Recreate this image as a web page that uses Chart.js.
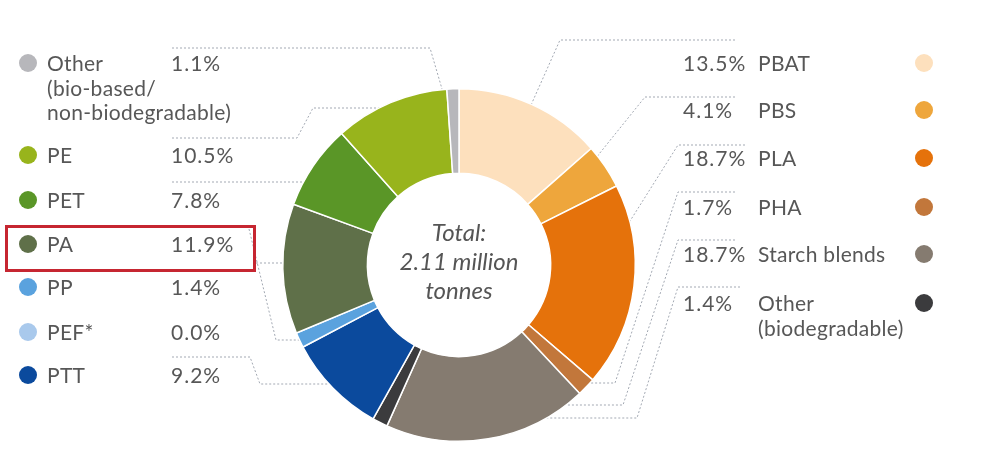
<!DOCTYPE html>
<html lang="en">
<head>
  <meta charset="UTF-8" />
  <title>Bioplastics production capacity by material</title>
  <script src="https://cdn.jsdelivr.net/npm/chart.js@4"></script>
  <style>
    html, body { margin: 0; padding: 0; background: #fff; }
    #wrap { position: relative; width: 1001px; height: 454px; overflow: hidden; font-family: Lato, "Open Sans", sans-serif; color: #575757; }
    #chart { position: absolute; left: 0; top: 0; }
    .lbl { position: absolute; font-size: 21px; line-height: 24.5px; letter-spacing: 0.3px; white-space: pre; transform: translateY(-12.25px); }
    .lbl.pct { letter-spacing: 1px; }
    .dot { position: absolute; width: 18px; height: 18px; border-radius: 50%; transform: translate(-9px, -9px); }
    .total { position: absolute; left: 459px; top: 260px; transform: translate(-50%, -50%); text-align: center; font-style: italic; font-size: 24px; line-height: 29px; color: #555; }
    #box { position: absolute; left: 5px; top: 225px; width: 251px; height: 47px; box-sizing: border-box; border: 3px solid #c62631; }
  </style>
</head>
<body>
  <div id="wrap">
    <canvas id="chart" width="1001" height="454"></canvas>
    <div id="labels"></div>
    <div class="total">Total:<br>2.11 million<br>tonnes</div>
    <div id="box"></div>
  </div>

  <script>
    // clockwise from 12 o'clock
    const materials = ['PBAT', 'PBS', 'PLA', 'PHA', 'Starch blends', 'Other\n(biodegradable)',
                       'PTT', 'PEF*', 'PP', 'PA', 'PET', 'PE', 'Other\n(bio-based/\nnon-biodegradable)'];
    const shares = [13.5, 4.1, 18.7, 1.7, 18.7, 1.4, 9.2, 0.0, 1.4, 11.9, 7.8, 10.5, 1.1];
    const colors = ['#fde0bd', '#eea63c', '#e5720b', '#c2773b', '#857b70', '#3b3b3d',
                    '#0b4a9d', '#a9c9ec', '#5aa2de', '#5f7049', '#5a9627', '#98b41c', '#b7b7bb'];

    // legend rows: side, row centre y
    const rows = [
      ['right', 63], ['right', 110], ['right', 158], ['right', 207], ['right', 254], ['right', 303],
      ['left', 375], ['left', 332], ['left', 287], ['left', 244], ['left', 200], ['left', 155], ['left', 63]
    ];

    // dotted leader lines: fixed label-side points, then into the slice
    // end 'c' = straight to slice centre, 'h' = horizontal into slice
    const leaders = [
      { pts: [[735, 40], [560, 40]], end: 'c' },
      { pts: [[735, 97], [645, 97]], end: 'c' },
      { pts: [[745, 145], [678, 145]], end: 'c' },
      { pts: [[735, 192], [678, 192], [615, 383]], end: 'h' },
      { pts: [[735, 240], [678, 240], [623, 405]], end: 'h' },
      { pts: [[740, 287], [678, 287], [637, 418]], end: 'h' },
      { pts: [[172, 357], [250, 357], [260, 384]], end: 'h' },
      null,
      { pts: [[249, 229], [276, 340]], end: 'h' },
      { pts: [[256, 263]], end: 'h' },
      { pts: [[172, 182]], end: 'h' },
      { pts: [[172, 138], [297, 138], [313, 108]], end: 'h' },
      { pts: [[172, 48], [430, 48]], end: 'c' }
    ];

    // legend text
    const box = document.getElementById('labels');
    materials.forEach((m, i) => {
      const [side, y] = rows[i];
      const pct = shares[i].toFixed(1) + '%';
      const dotX = side === 'left' ? 28 : 924;
      const nameX = side === 'left' ? 47 : 758;
      const pctX = side === 'left' ? 171 : 683;
      box.insertAdjacentHTML('beforeend',
        `<div class="dot" style="left:${dotX}px;top:${y}px;background:${colors[i]}"></div>` +
        `<div class="lbl" style="left:${nameX}px;top:${y}px">${m}</div>` +
        `<div class="lbl pct" style="left:${pctX}px;top:${y}px">${pct}</div>`);
    });

    const leaderPlugin = {
      id: 'leaders',
      beforeDatasetsDraw(chart) {
        const ctx = chart.ctx;
        const arcs = chart.getDatasetMeta(0).data;
        ctx.save();
        ctx.strokeStyle = '#a3a9b3';
        ctx.lineWidth = 1;
        ctx.setLineDash([2, 2]);
        leaders.forEach((l, i) => {
          if (!l) return;
          const c = arcs[i].getCenterPoint();
          const last = l.pts[l.pts.length - 1];
          ctx.beginPath();
          ctx.moveTo(l.pts[0][0], l.pts[0][1]);
          l.pts.slice(1).forEach(p => ctx.lineTo(p[0], p[1]));
          if (l.end === 'h') ctx.lineTo(c.x, last[1]);
          else ctx.lineTo(c.x, c.y);
          ctx.stroke();
        });
        ctx.restore();
      }
    };

    new Chart(document.getElementById('chart'), {
      type: 'doughnut',
      data: {
        labels: materials,
        datasets: [{
          data: shares,
          backgroundColor: colors,
          borderColor: '#ffffff',
          borderWidth: 1.5
        }]
      },
      options: {
        responsive: false,
        animation: false,
        cutout: '52%',
        layout: { padding: { left: 282, right: 365, top: 88, bottom: 12 } },
        plugins: { legend: { display: false }, tooltip: { enabled: false } }
      },
      plugins: [leaderPlugin]
    });
  </script>
</body>
</html>
